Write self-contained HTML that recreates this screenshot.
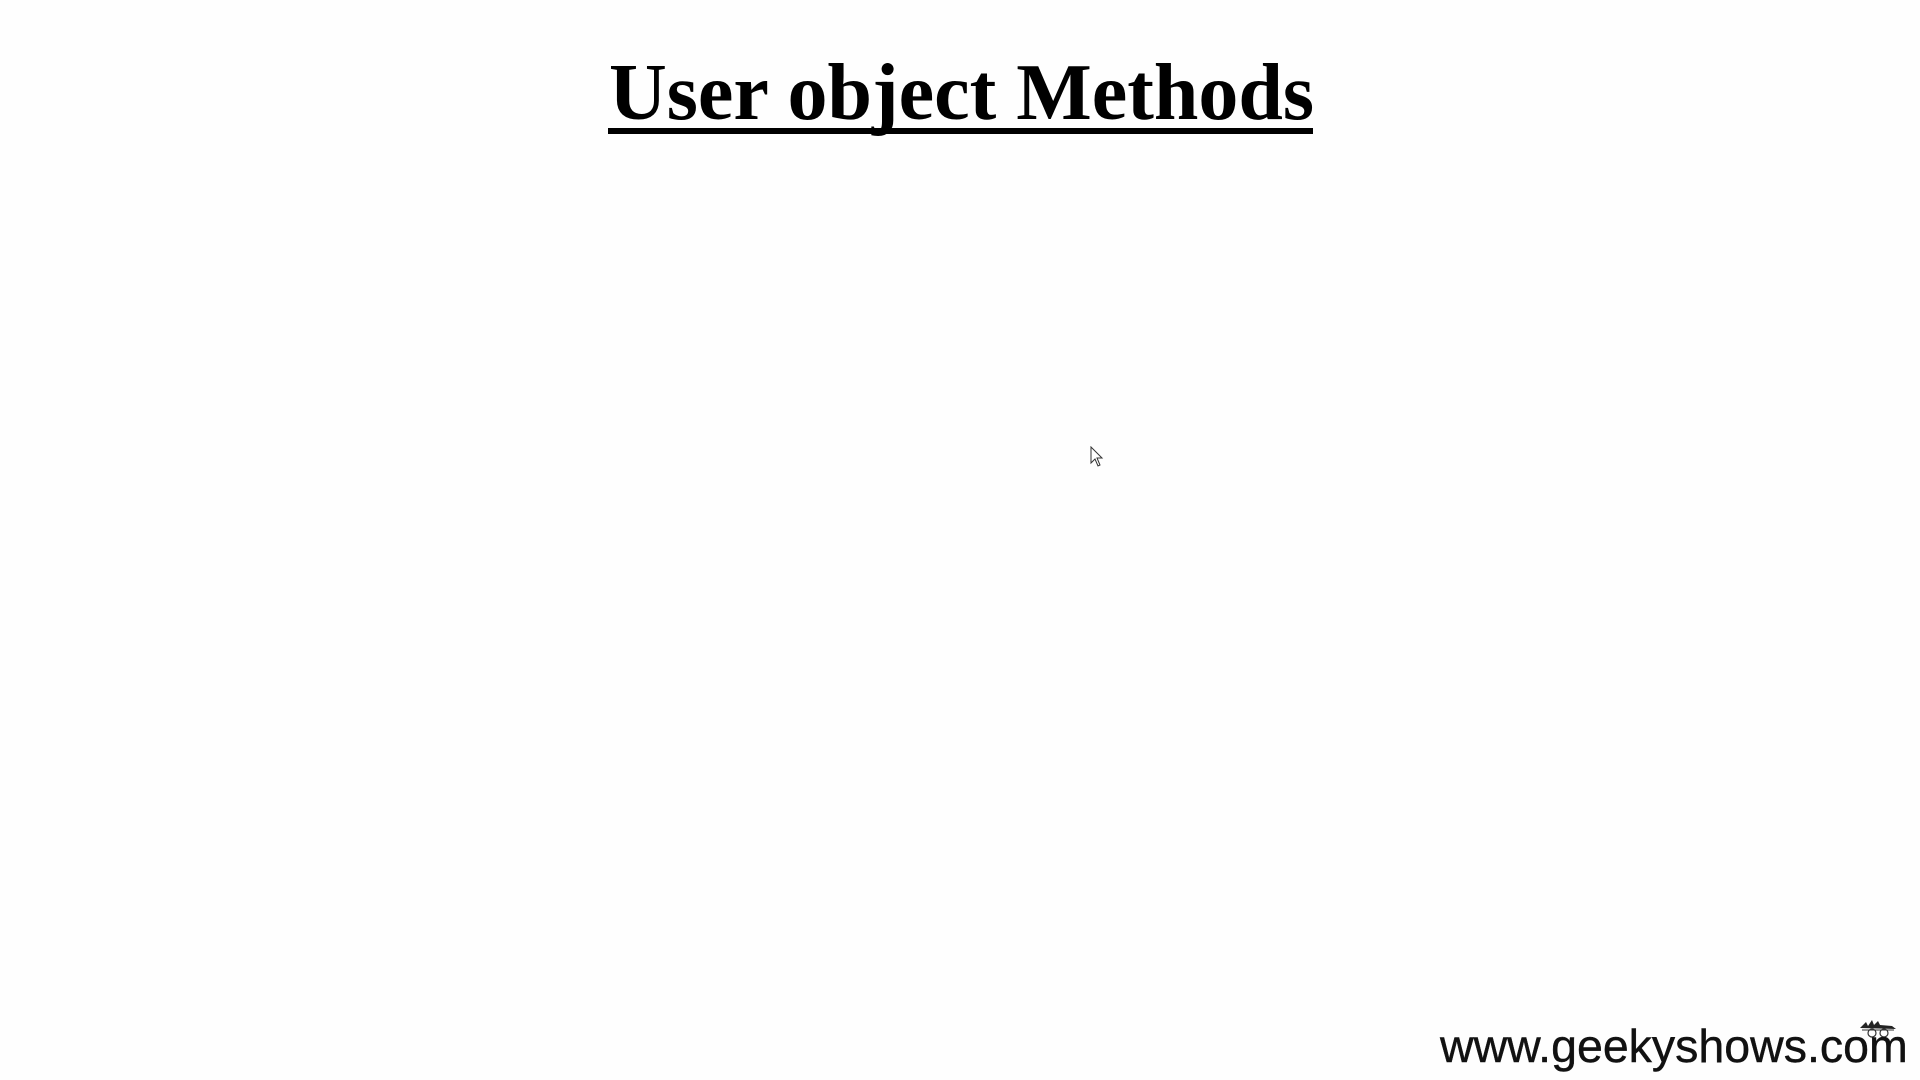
<!DOCTYPE html>
<html><head><meta charset="utf-8"><style>
html,body{margin:0;padding:0;background:#fefefe;width:1920px;height:1080px;overflow:hidden;position:relative}
.t{position:absolute;left:609px;top:43px;font-family:"Liberation Serif",serif;font-weight:bold;font-size:80px;line-height:100px;white-space:nowrap;color:#000}
.u{position:absolute;left:608px;top:128px;width:705px;height:6px;background:#000}
.w{position:absolute;left:1440px;top:1021px;font-family:"Liberation Sans",sans-serif;font-size:46.5px;line-height:50px;white-space:nowrap;color:#111;-webkit-text-stroke:0.4px #111}
</style></head><body>
<div class="t">User object Methods</div>
<div class="u"></div>
<svg style="position:absolute;left:1090px;top:446px" width="16" height="22" viewBox="0 0 16 22"><path d="M1 1 L1 17 L5 13 L8 20 L10 19 L7 12 L12 12 Z" fill="#fff" stroke="#333" stroke-width="1"/></svg>
<svg style="position:absolute;left:1858px;top:1018px" width="40" height="22" viewBox="0 0 40 22"><path d="M2 10 L8 4 L10 8 L14 2 L16 7 L20 3 L22 7 L34 8 L38 11 Z" fill="#222"/><circle cx="14" cy="15" r="4" fill="none" stroke="#333" stroke-width="1.2"/><circle cx="26" cy="15" r="4" fill="none" stroke="#333" stroke-width="1.2"/><path d="M4 12 H36" stroke="#333" stroke-width="1"/></svg>
<div class="w">www.geekyshows.com</div>
</body></html>
